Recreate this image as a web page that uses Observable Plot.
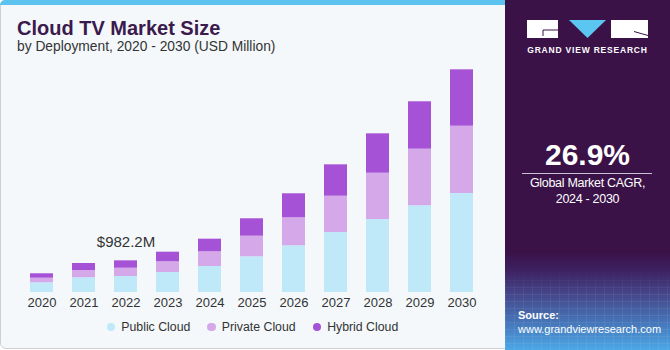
<!DOCTYPE html>
<html>
<head>
<meta charset="utf-8">
<script src="https://cdn.jsdelivr.net/npm/d3@7"></script>
<script src="https://cdn.jsdelivr.net/npm/@observablehq/plot@0.6"></script>
<style>
html,body{margin:0;padding:0;background:#ffffff;}
#wrap{position:relative;width:670px;height:350px;overflow:hidden;font-family:"Liberation Sans",Arial,sans-serif;}
#left{position:absolute;left:0;top:0;width:508px;height:349px;background:#f4f8fb;border:1px solid #cdd1d4;border-radius:6px 0 0 6px;box-sizing:border-box;}
#strip{position:absolute;left:0;top:0;width:508px;height:5px;background:#5cc3ee;border-radius:6px 0 0 0;}
#title{position:absolute;left:17px;top:18px;font-size:20px;line-height:20px;font-weight:bold;color:#3b1a4d;white-space:nowrap;}
#subtitle{position:absolute;left:17px;top:40.4px;font-size:13.8px;line-height:14px;color:#333;white-space:nowrap;}
#chart{position:absolute;left:0;top:60px;}
#legend{position:absolute;left:0;top:320px;width:505px;display:flex;justify-content:center;font-size:12.3px;color:#333;}
#legend .item{display:flex;align-items:center;margin:0 8.5px;}
#legend .dot{width:8.5px;height:8.5px;border-radius:50%;margin-right:6px;}
#panel{position:absolute;left:505px;top:0;width:165px;height:350px;
 background:linear-gradient(to bottom,#3a1248 0%,#3a1248 72%,#3d2060 77%,#45468a 84%,#4675b8 92%,#4ca8e6 100%);}
#panel .t{position:absolute;left:0;width:165px;text-align:center;color:#fff;white-space:nowrap;}
#cagr{top:139.6px;font-size:30px;line-height:30px;font-weight:bold;}
#rule{position:absolute;left:17px;top:173px;width:130px;height:1px;background:#c9c1d3;}
#cagrLbl{top:176.4px;font-size:12.5px;line-height:15.5px;letter-spacing:-0.3px;}
#gvr{top:45px;font-size:8.5px;line-height:10px;font-weight:bold;letter-spacing:0.8px;}
#src{position:absolute;left:13px;top:308px;color:#fff;font-size:11px;line-height:14px;white-space:nowrap;}
</style>
</head>
<body>
<div id="wrap">
  <div id="left"></div>
  <div id="strip"></div>
  <div id="title">Cloud TV Market Size</div>
  <div id="subtitle">by Deployment, 2020 - 2030 (USD Million)</div>
  <div id="chart"></div>
  <div id="legend"></div>
  <div id="panel">
    <svg width="165" height="350" style="position:absolute;left:0;top:0">
      <defs>
        <pattern id="grid" width="9" height="7" patternUnits="userSpaceOnUse">
          <path d="M9 0 L0 0 0 7" fill="none" stroke="#ffffff" stroke-opacity="0.16" stroke-width="0.8"/>
        </pattern>
        <linearGradient id="fade" x1="0" y1="0" x2="0" y2="1">
          <stop offset="0" stop-color="#fff" stop-opacity="0"/>
          <stop offset="0.3" stop-color="#fff" stop-opacity="1"/>
          <stop offset="1" stop-color="#fff" stop-opacity="1"/>
        </linearGradient>
        <mask id="m"><rect x="0" y="270" width="165" height="80" fill="url(#fade)"/></mask>
      </defs>
      <rect x="0" y="270" width="165" height="80" fill="url(#grid)" mask="url(#m)"/>
      <rect x="22" y="20" width="31" height="18" fill="#ffffff"/>
      <path d="M53 30 H38 V36" fill="none" stroke="#3a1248" stroke-width="1"/>
      <polygon points="64,20 101,20 82.5,38" fill="#5bc6f2"/>
      <rect x="106" y="20" width="37" height="18" fill="#ffffff"/>
      <path d="M129 31.5 L143 35.5" fill="none" stroke="#3a1248" stroke-width="1"/>
    </svg>
    <div class="t" id="gvr">GRAND VIEW RESEARCH</div>
    <div class="t" id="cagr">26.9%</div>
    <div id="rule"></div>
    <div class="t" id="cagrLbl">Global Market CAGR,<br>2024 - 2030</div>
    <div id="src"><b>Source:</b><br>www.grandviewresearch.com</div>
  </div>
</div>
<script>
const years = [2020, 2021, 2022, 2023, 2024, 2025, 2026, 2027, 2028, 2029, 2030];
const series = ["Public Cloud", "Private Cloud", "Hybrid Cloud"];
const colors = ["#bfe9f8", "#d5a8ea", "#a652d6"];
const publicCloud  = [301, 456, 496, 620, 806, 1107, 1448, 1860, 2263, 2688, 3069];
const privateCloud = [143, 226, 257.2, 332, 456, 639, 868, 1125, 1435, 1755, 2086];
const hybridCloud  = [136, 217, 229, 298, 391, 539, 744, 973, 1221, 1469, 1748];
const labelYears = [2022];
const labelTexts = ["$982.2M"];

const seriesValues = [publicCloud, privateCloud, hybridCloud];
const rows = [];
years.forEach((yr, i) => {
  series.forEach((s, j) => rows.push({year: yr, series: s, value: seriesValues[j][i]}));
});
const labels = labelYears.map((yr, k) => {
  const i = years.indexOf(yr);
  return {year: yr, total: publicCloud[i] + privateCloud[i] + hybridCloud[i], text: labelTexts[k]};
});

const chart = Plot.plot({
  width: 505,
  height: 255,
  marginTop: 0,
  marginBottom: 23,
  marginLeft: 11.5,
  marginRight: 12.5,
  x: {type: "band", domain: years, padding: 0.452, tickSize: 0, tickPadding: 5, label: null, tickFormat: d => String(d)},
  y: {axis: null, domain: [0, 232 * 31]},
  color: {domain: series, range: colors},
  style: {background: "transparent", fontFamily: "'Liberation Sans', Arial, sans-serif", fontSize: "13px", color: "#333"},
  marks: [
    Plot.barY(rows, {x: "year", y: "value", fill: "series"}),
    Plot.text(labels, {x: "year", y: "total", text: "text", dy: -19, fontSize: 15, fill: "#333"})
  ]
});
document.getElementById("chart").appendChild(chart);

const legend = document.getElementById("legend");
series.forEach((s, j) => {
  const item = document.createElement("div");
  item.className = "item";
  const dot = document.createElement("span");
  dot.className = "dot";
  dot.style.background = colors[j];
  const lbl = document.createElement("span");
  lbl.textContent = s;
  item.appendChild(dot);
  item.appendChild(lbl);
  legend.appendChild(item);
});
</script>
</body>
</html>
